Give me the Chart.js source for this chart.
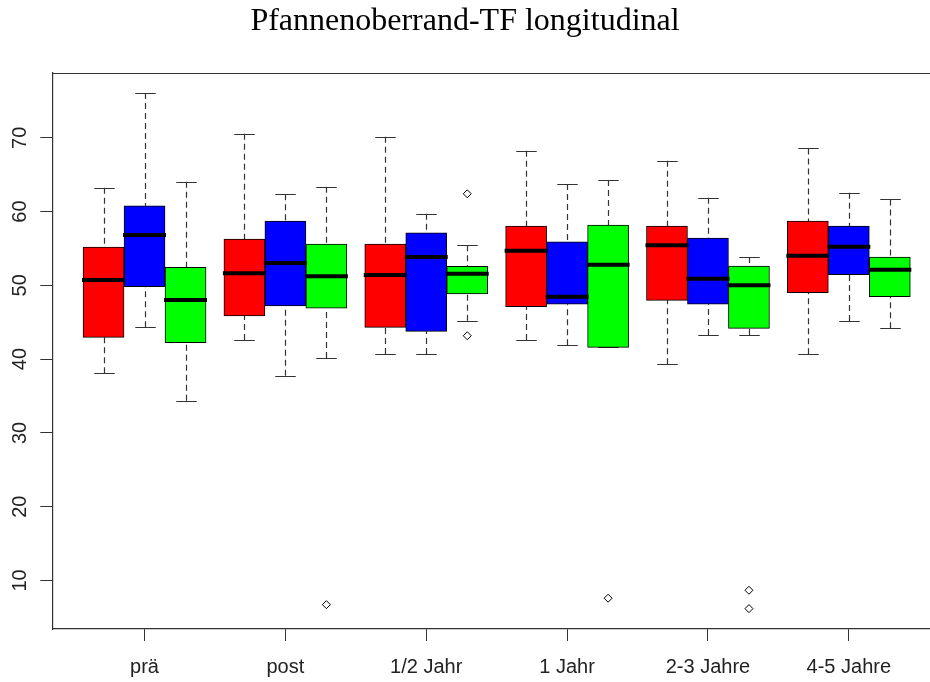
<!DOCTYPE html>
<html><head><meta charset="utf-8">
<script src="https://cdn.jsdelivr.net/npm/chart.js@4/dist/chart.umd.min.js"></script>
<style>html,body{margin:0;padding:0;background:#fff;overflow:hidden}</style>
</head><body>
<canvas id="c" width="930" height="682"></canvas>
<script>
const chartTitle = 'Pfannenoberrand-TF longitudinal';
const categories = ['prä', 'post', '1/2 Jahr', '1 Jahr', '2-3 Jahre', '4-5 Jahre'];
const yTicks = [10, 20, 30, 40, 50, 60, 70];

// red series
const redLow  = [38.08, 42.59, 40.69, 42.59, 39.30, 40.65];
const redQ1   = [42.95, 45.84, 44.31, 47.10, 47.97, 49.00];
const redMed  = [50.72, 51.63, 51.40, 54.69, 55.42, 54.01];
const redQ3   = [55.19, 56.27, 55.60, 58.04, 58.04, 58.71];
const redHigh = [63.22, 70.54, 70.14, 68.24, 66.88, 68.56];
const redOut  = [[], [], [], [], [], []];

// blue series
const blueLow  = [44.31, 37.75, 40.69, 41.87, 43.27, 45.16];
const blueQ1   = [49.81, 47.20, 43.77, 47.43, 47.43, 51.44];
const blueMed  = [56.82, 53.02, 53.83, 48.46, 50.90, 55.23];
const blueQ3   = [60.79, 58.71, 57.13, 55.91, 56.41, 58.04];
const blueHigh = [76.06, 62.33, 59.70, 63.73, 61.87, 62.55];
const blueOut  = [[], [], [], [], [], []];

// green series
const greenLow  = [34.36, 40.15, 45.20, 41.60, 43.27, 44.17];
const greenQ1   = [42.22, 46.92, 48.82, 41.60, 44.17, 48.46];
const greenMed  = [48.01, 51.22, 51.57, 52.79, 50.00, 52.11];
const greenQ3   = [52.44, 55.60, 52.57, 58.17, 52.62, 53.83];
const greenHigh = [64.04, 63.36, 55.42, 64.27, 53.83, 61.65];
const greenOut  = [[], [6.72], [62.41, 43.17], [7.59], [8.67, 6.18], []];

const series = [
  {color: '#FF0000', low: redLow, q1: redQ1, med: redMed, q3: redQ3, high: redHigh, out: redOut},
  {color: '#0000FF', low: blueLow, q1: blueQ1, med: blueMed, q3: blueQ3, high: blueHigh, out: blueOut},
  {color: '#00FF00', low: greenLow, q1: greenQ1, med: greenMed, q3: greenQ3, high: greenHigh, out: greenOut}
];

const boxStep = 0.291;   // spacing of boxes inside a group (x units)
const posOf = (si, i) => i + 1 + (si - 1) * boxStep;

const datasets = series.map((s, si) => ({
  type: 'bar',
  data: categories.map((c, i) => ({x: posOf(si, i), y: [s.q1[i], s.q3[i]]})),
  backgroundColor: s.color,
  borderColor: '#000',
  borderWidth: 1,
  borderSkipped: false,
  grouped: false,
  barPercentage: 1,
  categoryPercentage: 1,
  order: 2
}));

const outlierPts = [];
series.forEach((s, si) => s.out.forEach((arr, i) => arr.forEach(v => outlierPts.push({x: posOf(si, i), y: v}))));
datasets.push({
  type: 'scatter',
  data: outlierPts,
  pointStyle: 'rectRot',
  pointRadius: 4,
  backgroundColor: '#fff',
  borderColor: '#000',
  borderWidth: 1,
  order: 1
});

const boxExtras = {
  id: 'boxExtras',
  beforeDatasetsDraw(chart) {
    const {ctx, scales: {x, y}} = chart;
    const w = Math.abs(x.getPixelForValue(boxStep) - x.getPixelForValue(0));
    ctx.save();
    ctx.strokeStyle = '#333';
    ctx.lineWidth = 1.2;
    series.forEach((s, si) => categories.forEach((c, i) => {
      const px = Math.round(x.getPixelForValue(posOf(si, i))) + 0.5;
      ctx.setLineDash([6, 4]);
      ctx.beginPath();
      ctx.moveTo(px, y.getPixelForValue(s.low[i]));
      ctx.lineTo(px, y.getPixelForValue(s.q1[i]));
      ctx.moveTo(px, y.getPixelForValue(s.high[i]));
      ctx.lineTo(px, y.getPixelForValue(s.q3[i]));
      ctx.stroke();
      ctx.setLineDash([]);
      ctx.beginPath();
      [s.low[i], s.high[i]].forEach(v => {
        const py = Math.round(y.getPixelForValue(v)) + 0.5;
        ctx.moveTo(px - w / 4, py);
        ctx.lineTo(px + w / 4, py);
      });
      ctx.stroke();
    }));
    ctx.restore();
  },
  afterDatasetsDraw(chart) {
    const {ctx, scales: {x, y}} = chart;
    const w = Math.abs(x.getPixelForValue(boxStep) - x.getPixelForValue(0));
    ctx.save();
    ctx.strokeStyle = '#000';
    ctx.lineWidth = 4;
    series.forEach((s, si) => categories.forEach((c, i) => {
      const px = x.getPixelForValue(posOf(si, i));
      const py = y.getPixelForValue(s.med[i]);
      ctx.beginPath();
      ctx.moveTo(px - w / 2 - 1, py);
      ctx.lineTo(px + w / 2 + 1, py);
      ctx.stroke();
    }));
    ctx.restore();
  },
  afterDraw(chart) {
    const {ctx, chartArea: a} = chart;
    ctx.save();
    ctx.strokeStyle = '#333';
    ctx.lineWidth = 1.2;
    ctx.beginPath();
    ctx.moveTo(a.left, Math.round(a.top) + 0.5);
    ctx.lineTo(a.right, Math.round(a.top) + 0.5);
    ctx.stroke();
    ctx.restore();
  }
};

new Chart(document.getElementById('c'), {
  type: 'bar',
  data: {datasets},
  plugins: [boxExtras],
  options: {
    responsive: false,
    animation: false,
    devicePixelRatio: 1,
    layout: {padding: 0, autoPadding: false},
    plugins: {
      legend: {display: false},
      tooltip: {enabled: false},
      title: {
        display: true,
        text: chartTitle,
        color: '#000',
        font: {family: '"Liberation Serif", "Times New Roman", serif', size: 32, weight: 'normal'},
        padding: {top: 2, bottom: 32.3}
      }
    },
    scales: {
      x: {
        type: 'linear',
        min: 0.3452,
        max: 6.5763,
        offset: false,
        afterFit(scale) { scale.height = 53; scale.paddingLeft = 0; scale.paddingRight = 0; },
        afterBuildTicks(scale) { scale.ticks = categories.map((c, i) => ({value: i + 1})); },
        grid: {drawOnChartArea: false, drawTicks: true, tickLength: 12, color: '#333', offset: false},
        border: {display: true, color: '#333', width: 1.2},
        ticks: {
          autoSkip: false, maxRotation: 0, minRotation: 0,
          padding: 14,
          color: '#222',
          font: {family: '"Liberation Sans", Arial, sans-serif', size: 20},
          callback: (v) => categories[Math.round(v) - 1]
        }
      },
      y: {
        type: 'linear',
        min: 3.42,
        max: 78.82,
        afterFit(scale) { scale.width = 52.3; scale.paddingTop = 0; scale.paddingBottom = 0; },
        afterBuildTicks(scale) { scale.ticks = yTicks.map(v => ({value: v})); },
        grid: {drawOnChartArea: false, drawTicks: true, tickLength: 12, color: '#333'},
        border: {display: true, color: '#333', width: 1.2},
        ticks: {
          minRotation: 90, maxRotation: 90,
          crossAlign: 'center',
          padding: 9,
          color: '#222',
          font: {family: '"Liberation Sans", Arial, sans-serif', size: 20}
        }
      }
    }
  }
});
</script>
</body></html>
